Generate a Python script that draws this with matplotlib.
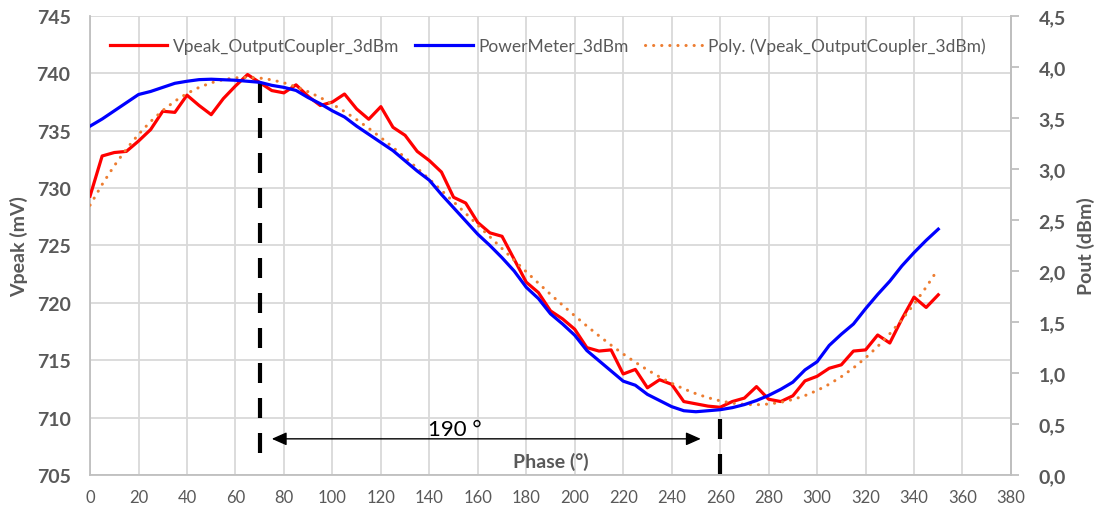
import numpy as np
import matplotlib
matplotlib.use("Agg")
import matplotlib.pyplot as plt

plt.rcParams['font.family'] = ['Lato', 'DejaVu Sans']

phase = np.arange(0, 355, 5)
vpeak = [729.3, 732.8, 733.1, 733.2, 734.1, 735.1, 736.7, 736.6, 738.1, 737.2,
         736.4, 737.8, 738.9, 739.9, 739.2, 738.5, 738.3, 739.0, 738.0, 737.2,
         737.5, 738.2, 736.9, 736.0, 737.1, 735.3, 734.6, 733.2, 732.4, 731.4,
         729.2, 728.7, 727.0, 726.1, 725.8, 723.8, 721.8, 720.9, 719.3, 718.6,
         717.7, 716.1, 715.8, 715.9, 713.8, 714.2, 712.6, 713.3, 712.9, 711.4,
         711.2, 711.0, 710.9, 711.4, 711.7, 712.7, 711.6, 711.4, 711.9, 713.2,
         713.6, 714.3, 714.6, 715.8, 715.9, 717.2, 716.5, 718.6, 720.5, 719.6,
         720.7]
pout = [3.42, 3.49, 3.57, 3.65, 3.73, 3.76, 3.80, 3.84, 3.86, 3.876,
        3.88, 3.875, 3.87, 3.86, 3.85, 3.82, 3.80, 3.77, 3.70, 3.64,
        3.57, 3.51, 3.42, 3.34, 3.26, 3.18, 3.08, 2.98, 2.89, 2.75,
        2.62, 2.49, 2.36, 2.25, 2.13, 2.00, 1.84, 1.73, 1.58, 1.48,
        1.37, 1.22, 1.12, 1.02, 0.92, 0.88, 0.79, 0.73, 0.67, 0.63,
        0.62, 0.63, 0.64, 0.66, 0.69, 0.73, 0.78, 0.84, 0.91, 1.03,
        1.11, 1.27, 1.38, 1.48, 1.63, 1.77, 1.90, 2.05, 2.18, 2.30,
        2.41]
poly_order = 4

x_ticks = list(range(0, 400, 20))
left_ticks = [705, 710, 715, 720, 725, 730, 735, 740, 745]
right_ticks = [0.0, 0.5, 1.0, 1.5, 2.0, 2.5, 3.0, 3.5, 4.0, 4.5]
right_labels = ['0,0', '0,5', '1,0', '1,5', '2,0', '2,5', '3,0', '3,5', '4,0', '4,5']

# annotation positions (phase, mV)
max_phase, min_phase = 70, 260
arrow_from, arrow_to, arrow_y = 75, 252, 708.15

grey = '#595959'
fig = plt.figure(figsize=(10.94, 5.10), dpi=100)
ax = fig.add_axes([0.0823, 0.0667, 0.8418, 0.9])

# polynomial trendline of the Vpeak series
x_scaled = phase / 100.0
coef = np.polyfit(x_scaled, vpeak, poly_order)
trend = np.polyval(coef, x_scaled)

l1, = ax.plot(phase, vpeak, color='#FF0000', lw=2.3, solid_joinstyle='round', zorder=3)
l3, = ax.plot(phase, trend, color='#ED7D31', lw=2.2, linestyle=(0, (0.05, 2.6)),
              dash_capstyle='round', zorder=4)

ax.set_xlim(0, 380)
ax.set_ylim(705, 745)
ax.set_xticks(x_ticks)
ax.set_yticks(left_ticks)
ax.grid(True, color='#D9D9D9', lw=1.3)
ax.set_axisbelow(True)
ax.spines['top'].set_visible(False)
for s in ['left', 'bottom', 'right']:
    ax.spines[s].set_color('#BFBFBF')
    ax.spines[s].set_linewidth(1.3)
ax.tick_params(axis='x', length=0, pad=10, labelsize=12, labelcolor=grey)
ax.tick_params(axis='y', length=0, pad=14, labelsize=14, labelcolor=grey)
for t in ax.get_yticklabels():
    t.set_fontweight('bold')
ax.set_ylabel('Vpeak (mV)', fontsize=14, fontweight='bold', color=grey, labelpad=6)

# markers for max / min and the phase difference
ax.plot([max_phase, max_phase], [739.2, 705.9], color='black', lw=3,
        dashes=(4.8, 3.6), zorder=5)
ax.plot([min_phase, min_phase], [709.9, 705.0], color='black', lw=3,
        dashes=(4.8, 3.6), zorder=5, clip_on=False)
ax.annotate('', xy=(arrow_to, arrow_y), xytext=(arrow_from, arrow_y),
            arrowprops=dict(arrowstyle='<|-|>,head_length=0.45,head_width=0.2',
                            lw=1, color='black', shrinkA=0, shrinkB=0,
                            mutation_scale=20), zorder=5)
ax.text(139.5, 709.0, '190 °', fontsize=16, color='black', va='center', ha='left', zorder=6)
ax.text(190, 706.2, 'Phase (°)', fontsize=14, fontweight='bold', color=grey,
        ha='center', va='center', zorder=6)

ax2 = ax.twinx()
l2, = ax2.plot(phase, pout, color='#0000FF', lw=2.3, solid_joinstyle='round')
ax2.set_ylim(0, 4.5)
ax2.set_yticks(right_ticks)
ax2.set_yticklabels(right_labels)
for s in ['top', 'left', 'bottom']:
    ax2.spines[s].set_visible(False)
ax2.spines['right'].set_color('#BFBFBF')
ax2.spines['right'].set_linewidth(1.3)
ax2.tick_params(axis='y', length=6, width=1.3, color='#BFBFBF', pad=14,
                labelsize=14, labelcolor=grey)
for t in ax2.get_yticklabels():
    t.set_fontweight('bold')
ax2.set_ylabel('Pout (dBm)', fontsize=14, fontweight='bold', color=grey, labelpad=8)

ax2.legend([l1, l2, l3],
           ['Vpeak_OutputCoupler_3dBm', 'PowerMeter_3dBm', 'Poly. (Vpeak_OutputCoupler_3dBm)'],
           loc='center left', bbox_to_anchor=(0.0217, 0.935), ncol=3, frameon=False,
           borderpad=0, borderaxespad=0, handlelength=3.3, handletextpad=0.35,
           columnspacing=0.9, fontsize=12.5, labelcolor=grey)

fig.savefig('out.png', dpi=100)
